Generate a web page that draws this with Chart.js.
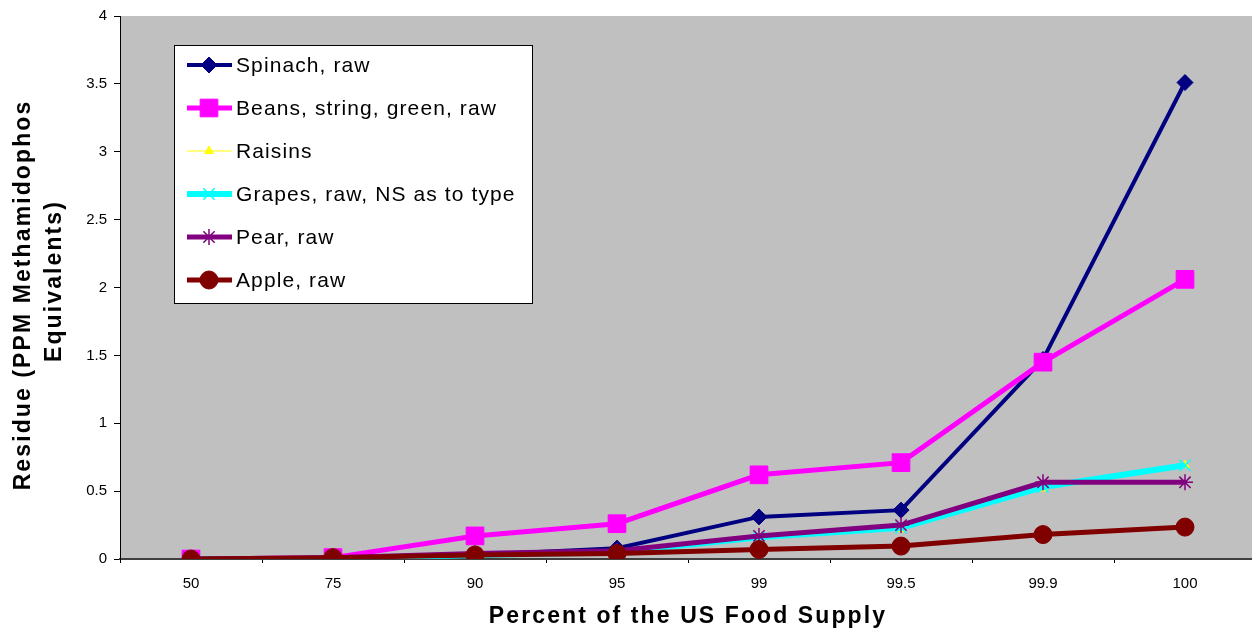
<!DOCTYPE html>
<html>
<head>
<meta charset="UTF-8">
<title>Residue by percent of the US food supply</title>
<script src="https://cdn.jsdelivr.net/npm/chart.js"></script>
<style>
  body { margin: 0; background: #fff; overflow: hidden; }
</style>
</head>
<body>
<canvas id="myChart" width="1256" height="633"></canvas>
<script type="text/javascript">
    // data
    var categories = ['50', '75', '90', '95', '99', '99.5', '99.9', '100'];
    var spinach = [0, 0.01, 0.03, 0.08, 0.31, 0.36, 1.47, 3.51];
    var beans = [0, 0.01, 0.17, 0.26, 0.62, 0.71, 1.45, 2.06];
    var raisins = [0, 0.005, 0.03, 0.05, 0.16, 0.22, 0.52, 0.69];
    var grapes = [0, 0, 0.03, 0.05, 0.16, 0.23, 0.53, 0.69];
    var pear = [0, 0.01, 0.04, 0.06, 0.17, 0.25, 0.565, 0.565];
    var apple = [0, 0.01, 0.03, 0.04, 0.07, 0.095, 0.18, 0.235];
    var yTicks = [0, 0.5, 1, 1.5, 2, 2.5, 3, 3.5, 4];

    var xTitle = 'Percent of the US Food Supply';
    var yTitle = ['Residue (PPM Methamidophos', 'Equivalents)'];

    function series(label, data, color, width, style, radius, pbw, order) {
        return {
            label: label,
            data: data,
            borderColor: color,
            backgroundColor: color,
            borderWidth: width,
            pointStyle: style,
            pointRadius: radius,
            pointBorderColor: color,
            pointBackgroundColor: color,
            pointBorderWidth: pbw,
            tension: 0,
            order: order
        };
    }

    // grey plot area
    var plotBackground = {
        id: 'plotBackground',
        beforeDraw: function (chart) {
            var a = chart.chartArea, ctx = chart.ctx;
            ctx.save();
            ctx.fillStyle = '#C0C0C0';
            ctx.fillRect(a.left, a.top, a.right - a.left, a.bottom - a.top);
            ctx.restore();
        }
    };

    // axis titles (spaced bold text) and the boxed legend inside the plot
    var extras = {
        id: 'extras',
        afterDraw: function (chart) {
            var ctx = chart.ctx, a = chart.chartArea;
            ctx.save();
            ctx.fillStyle = '#000';
            ctx.font = 'bold 23px "Liberation Sans", Arial, sans-serif';
            ctx.letterSpacing = '2.1px';
            ctx.textAlign = 'center';
            ctx.textBaseline = 'middle';
            ctx.fillText(xTitle, (a.left + a.right) / 2, 617);

            ctx.translate(24, 295);
            ctx.rotate(-Math.PI / 2);
            ctx.fillText(yTitle[0], 0, 0);
            ctx.fillText(yTitle[1], 14, 31);
            ctx.restore();

            // legend
            var bx = a.left + 54, by = a.top + 29, bw = 358, bh = 258;
            ctx.save();
            ctx.fillStyle = '#fff';
            ctx.fillRect(bx, by, bw, bh);
            ctx.strokeStyle = '#000';
            ctx.lineWidth = 1;
            ctx.strokeRect(bx + 0.5, by + 0.5, bw, bh);
            ctx.font = '21px "Liberation Sans", Arial, sans-serif';
            ctx.letterSpacing = '1.1px';
            ctx.textBaseline = 'middle';
            ctx.textAlign = 'left';
            chart.data.datasets.forEach(function (ds, i) {
                var y = by + 20 + i * 43;
                ctx.strokeStyle = ds.borderColor;
                ctx.lineWidth = ds.borderWidth;
                ctx.beginPath();
                ctx.moveTo(bx + 13, y);
                ctx.lineTo(bx + 58, y);
                ctx.stroke();
                ctx.fillStyle = ds.pointBackgroundColor;
                ctx.strokeStyle = ds.pointBorderColor;
                ctx.lineWidth = ds.pointBorderWidth;
                Chart.helpers.drawPoint(ctx, {
                    pointStyle: ds.pointStyle,
                    radius: ds.pointRadius,
                    rotation: 0,
                    borderWidth: ds.pointBorderWidth
                }, bx + 35, y);
                ctx.fillStyle = '#000';
                ctx.fillText(ds.label, bx + 62, y + 1);
            });
            ctx.restore();
        }
    };

    var tickFont = { family: '"Liberation Sans", Arial, sans-serif', size: 15 };

    new Chart('myChart', {
        type: 'line',
        data: {
            labels: categories,
            datasets: [
                series('Spinach, raw', spinach, '#000080', 4, 'rectRot', 8, 1, 6),
                series('Beans, string, green, raw', beans, '#FF00FF', 5, 'rect', 12.5, 1, 5),
                series('Raisins', raisins, '#FFFF00', 1, 'triangle', 5, 1, 4),
                series('Grapes, raw, NS as to type', grapes, '#00FFFF', 6, 'crossRot', 8, 1.5, 3),
                series('Pear, raw', pear, '#800080', 5, 'star', 8, 1.5, 2),
                series('Apple, raw', apple, '#800000', 5, 'circle', 9, 1, 1)
            ]
        },
        options: {
            responsive: false,
            animation: false,
            layout: { autoPadding: false, padding: { top: 14, right: 0, left: 0, bottom: 0 } },
            plugins: {
                legend: { display: false },
                tooltip: { enabled: false }
            },
            scales: {
                x: {
                    offset: true,
                    grid: { offset: true, drawOnChartArea: false, tickLength: 4, tickColor: '#000', tickWidth: 1 },
                    border: { color: '#404040', width: 2 },
                    ticks: { font: tickFont, color: '#000', padding: 12, maxRotation: 0, autoSkip: false },
                    afterFit: function (s) { s.height = 74; }
                },
                y: {
                    min: 0,
                    max: 4,
                    afterBuildTicks: function (s) { s.ticks = yTicks.map(function (v) { return { value: v }; }); },
                    grid: { drawOnChartArea: false, tickLength: 6, tickColor: '#000' },
                    border: { color: '#000', width: 1 },
                    ticks: {
                        font: tickFont, color: '#000', padding: 7,
                        callback: function (v) { return String(v); }
                    },
                    afterFit: function (s) { s.width = 120; }
                }
            }
        },
        plugins: [plotBackground, extras]
    });
</script>
</body>
</html>
